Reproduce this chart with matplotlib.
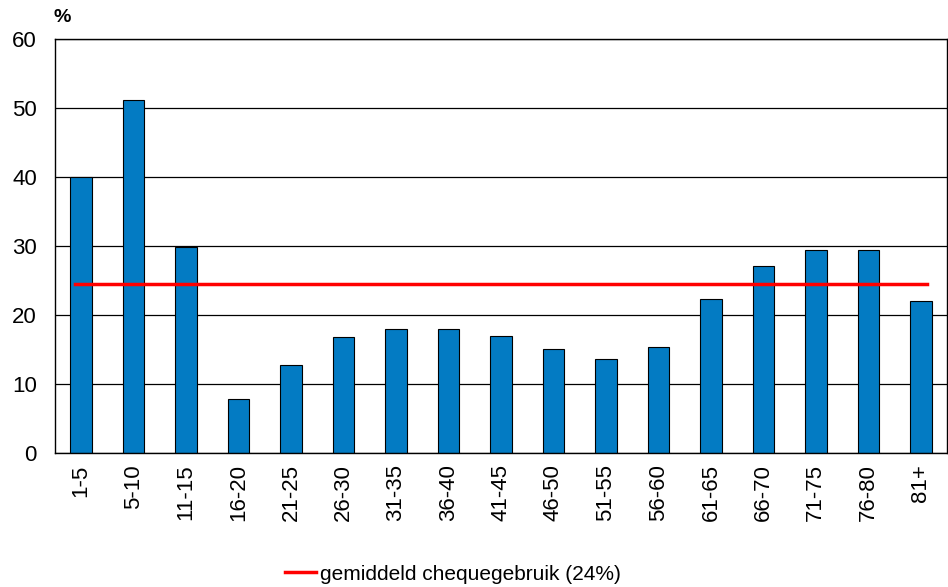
import matplotlib.pyplot as plt
import numpy as np

plt.rcParams['font.family'] = ['Liberation Sans', 'DejaVu Sans']

# Data
categories = ["1-5", "5-10", "11-15", "16-20", "21-25", "26-30", "31-35", "36-40",
              "41-45", "46-50", "51-55", "56-60", "61-65", "66-70", "71-75", "76-80", "81+"]
cheque_use = [40.0, 51.1, 29.8, 7.9, 12.7, 16.8, 18.0, 18.0,
              17.0, 15.1, 13.7, 15.3, 22.3, 27.1, 29.4, 29.4, 22.0]
average_use = 24.5
yticks = [0, 10, 20, 30, 40, 50, 60]

fig = plt.figure(figsize=(9.48, 5.87), dpi=100)
ax = fig.add_axes([0.058, 0.228, 0.941, 0.706])

x = np.arange(len(categories))

# Bars
ax.bar(x, cheque_use, width=0.41, color="#037BC3", edgecolor="black", linewidth=0.8, zorder=2)

# Average line
line, = ax.plot([x[0] - 0.12, x[-1] + 0.12], [average_use, average_use],
                color="#FF0000", linewidth=2.5, zorder=3,
                label="gemiddeld chequegebruik (24%)")

ax.set_xlim(-0.5, len(categories) - 0.5)
ax.set_ylim(0, 60)
ax.set_yticks(yticks)
ax.set_yticklabels([str(t) for t in yticks], fontsize=16)
ax.set_xticks(x)
ax.set_xticklabels(categories, rotation=90, fontsize=16)
ax.tick_params(axis="both", length=0)
ax.tick_params(axis="x", pad=8)
ax.tick_params(axis="y", pad=13)

ax.grid(axis="y", color="black", linewidth=0.9, zorder=0)
for sp in ax.spines.values():
    sp.set_color("black")
    sp.set_linewidth(1.0)

fig.text(0.056, 0.971, "%", fontsize=14, fontweight="bold", ha="left", va="center")

fig.legend(handles=[line], loc="center", bbox_to_anchor=(0.478, 0.022),
           frameon=False, fontsize=15, handlelength=1.5, handletextpad=0.2)

plt.savefig("out.png", dpi=100)
